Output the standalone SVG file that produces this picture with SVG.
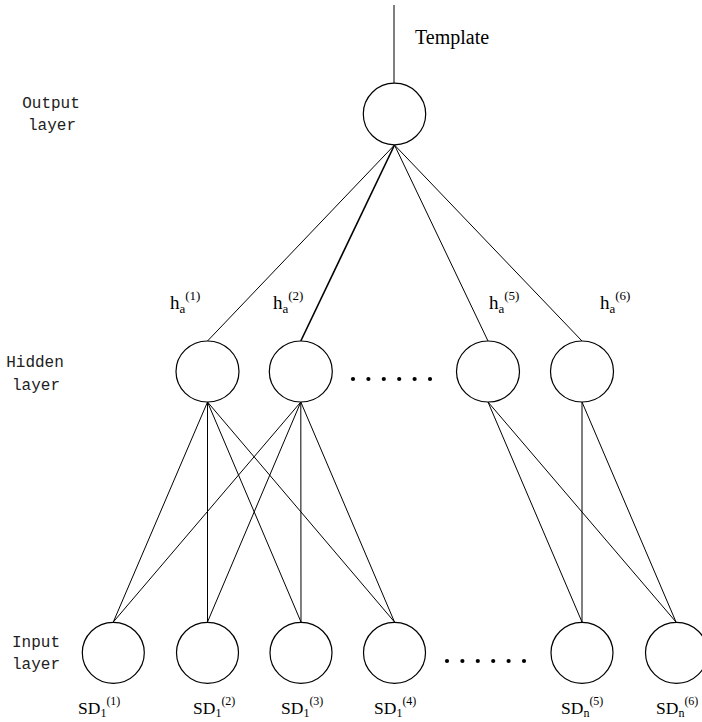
<svg xmlns="http://www.w3.org/2000/svg" width="702" height="722" viewBox="0 0 702 722">
<style>
.node{fill:#fff;stroke:#000;stroke-width:1.2}
.edge{stroke:#000;stroke-width:1;fill:none}
.layer{font-family:"Liberation Mono","DejaVu Sans Mono",monospace;font-size:16px;fill:#222;text-anchor:middle}
.lbl{font-family:"Liberation Serif","Times New Roman",serif;font-size:19px;fill:#000}
.sm{font-size:13px}
.dot{fill:#000}
</style>
<rect width="702" height="722" fill="#fff"/>
<g id="connectors">
<line class="edge" x1="394" y1="5" x2="394" y2="83"/>
<line class="edge" x1="394.5" y1="145" x2="207.5" y2="341"/>
<line class="edge" x1="394.5" y1="145" x2="300.8" y2="341" style="stroke-width:1.6"/>
<line class="edge" x1="394.5" y1="145" x2="488" y2="341"/>
<line class="edge" x1="394.5" y1="145" x2="582" y2="341"/>
<line class="edge" x1="207.5" y1="402" x2="113.3" y2="622"/>
<line class="edge" x1="207.5" y1="402" x2="207.5" y2="622"/>
<line class="edge" x1="207.5" y1="402" x2="301" y2="622"/>
<line class="edge" x1="207.5" y1="402" x2="394.5" y2="622"/>
<line class="edge" x1="300.8" y1="402" x2="113.3" y2="622"/>
<line class="edge" x1="300.8" y1="402" x2="207.5" y2="622"/>
<line class="edge" x1="300.8" y1="402" x2="301" y2="622"/>
<line class="edge" x1="300.8" y1="402" x2="394.5" y2="622"/>
<line class="edge" x1="488" y1="402" x2="582" y2="622"/>
<line class="edge" x1="488" y1="402" x2="676" y2="622"/>
<line class="edge" x1="582" y1="402" x2="582" y2="622"/>
<line class="edge" x1="582" y1="402" x2="676" y2="622"/>
</g>
<g id="layer-labels">
<text class="layer" x="51" y="108">Output</text>
<text class="layer" x="52" y="130">layer</text>
<text class="layer" x="35" y="367">Hidden</text>
<text class="layer" x="36" y="390">layer</text>
<text class="layer" x="36" y="647">Input</text>
<text class="layer" x="36" y="669">layer</text>
</g>
<g id="template-label"><text class="lbl" x="415" y="44" style="font-size:20px">Template</text></g>
<g id="output-node"><ellipse class="node" cx="394.5" cy="114" rx="31.2" ry="30.8"/></g>
<g id="hidden-1"><ellipse class="node" cx="207.5" cy="371.5" rx="31.5" ry="30.5"/>
<text class="lbl" x="170" y="309">h<tspan class="sm" dy="4">a</tspan><tspan class="sm" dy="-13">(1)</tspan></text></g>
<g id="hidden-2"><ellipse class="node" cx="300.8" cy="371.5" rx="31.5" ry="30.5"/>
<text class="lbl" x="273" y="309">h<tspan class="sm" dy="4">a</tspan><tspan class="sm" dy="-13">(2)</tspan></text></g>
<g id="hidden-5"><ellipse class="node" cx="488" cy="371.5" rx="31.5" ry="30.5"/>
<text class="lbl" x="489" y="309">h<tspan class="sm" dy="4">a</tspan><tspan class="sm" dy="-13">(5)</tspan></text></g>
<g id="hidden-6"><ellipse class="node" cx="582" cy="371.5" rx="31.5" ry="30.5"/>
<text class="lbl" x="600" y="309">h<tspan class="sm" dy="4">a</tspan><tspan class="sm" dy="-13">(6)</tspan></text></g>
<g id="hidden-dots">
<circle class="dot" cx="353" cy="379" r="2.1"/><circle class="dot" cx="368.4" cy="379" r="2.1"/><circle class="dot" cx="383.8" cy="379" r="2.1"/><circle class="dot" cx="399.2" cy="379" r="2.1"/><circle class="dot" cx="414.6" cy="379" r="2.1"/><circle class="dot" cx="430" cy="379" r="2.1"/>
</g>
<g id="input-1"><ellipse class="node" cx="113.3" cy="652.8" rx="31" ry="30.5"/>
<text class="lbl" x="78" y="714" style="font-size:17.5px">SD<tspan class="sm" dy="3" style="font-size:12px">1</tspan><tspan class="sm" dy="-12" style="font-size:12px">(1)</tspan></text></g>
<g id="input-2"><ellipse class="node" cx="207.5" cy="652.8" rx="31" ry="30.5"/>
<text class="lbl" x="193" y="714" style="font-size:17.5px">SD<tspan class="sm" dy="3" style="font-size:12px">1</tspan><tspan class="sm" dy="-12" style="font-size:12px">(2)</tspan></text></g>
<g id="input-3"><ellipse class="node" cx="301" cy="652.8" rx="31" ry="30.5"/>
<text class="lbl" x="281" y="714" style="font-size:17.5px">SD<tspan class="sm" dy="3" style="font-size:12px">1</tspan><tspan class="sm" dy="-12" style="font-size:12px">(3)</tspan></text></g>
<g id="input-4"><ellipse class="node" cx="394.5" cy="652.8" rx="31" ry="30.5"/>
<text class="lbl" x="374" y="714" style="font-size:17.5px">SD<tspan class="sm" dy="3" style="font-size:12px">1</tspan><tspan class="sm" dy="-12" style="font-size:12px">(4)</tspan></text></g>
<g id="input-5"><ellipse class="node" cx="582" cy="652.8" rx="31" ry="30.5"/>
<text class="lbl" x="561" y="714" style="font-size:17.5px">SD<tspan class="sm" dy="3" style="font-size:12px">n</tspan><tspan class="sm" dy="-12" style="font-size:12px">(5)</tspan></text></g>
<g id="input-6"><ellipse class="node" cx="676.5" cy="652.8" rx="31" ry="30.5"/>
<text class="lbl" x="656" y="714" style="font-size:17.5px">SD<tspan class="sm" dy="3" style="font-size:12px">n</tspan><tspan class="sm" dy="-12" style="font-size:12px">(6)</tspan></text></g>
<g id="input-dots">
<circle class="dot" cx="447" cy="661" r="2.1"/><circle class="dot" cx="462.4" cy="661" r="2.1"/><circle class="dot" cx="477.8" cy="661" r="2.1"/><circle class="dot" cx="493.2" cy="661" r="2.1"/><circle class="dot" cx="508.6" cy="661" r="2.1"/><circle class="dot" cx="524" cy="661" r="2.1"/>
</g>
</svg>
